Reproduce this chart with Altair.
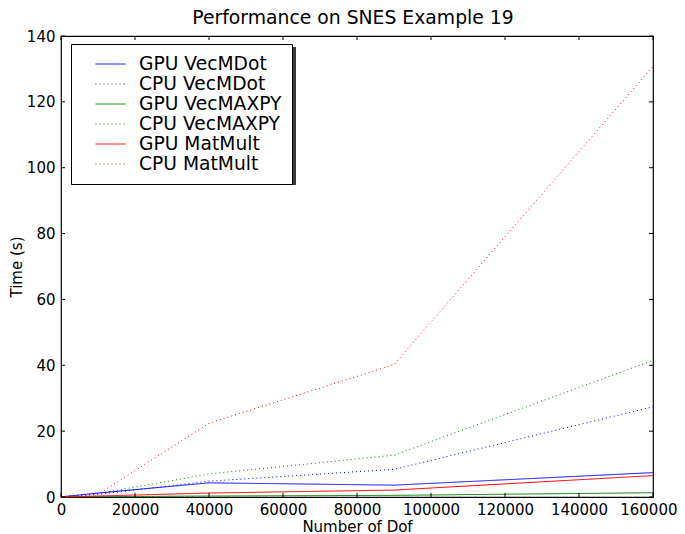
import altair as alt
import pandas as pd

# ---- data ----
dof = [64, 10000, 40000, 90000, 160000]
series_names = ["GPU VecMDot", "CPU VecMDot", "GPU VecMAXPY",
                "CPU VecMAXPY", "GPU MatMult", "CPU MatMult"]
gpu_vecmdot = [0.05, 1.2, 4.3, 3.6, 7.4]
cpu_vecmdot = [0.05, 0.8, 4.8, 8.4, 27.4]
gpu_vecmaxpy = [0.0, 0.1, 0.3, 0.5, 1.3]
cpu_vecmaxpy = [0.05, 1.0, 7.0, 12.7, 41.5]
gpu_matmult = [0.0, 0.3, 1.2, 2.1, 6.5]
cpu_matmult = [0.1, 0.8, 22.4, 40.2, 130.8]
series_colors = ["#0000ff", "#0000ff", "#008000", "#008000", "#ff0000", "#ff0000"]
series_dash = [[1, 0], [1, 3], [1, 0], [1, 3], [1, 0], [1, 3]]
x_ticks = [0, 20000, 40000, 60000, 80000, 100000, 120000, 140000, 160000]
y_ticks = [0, 20, 40, 60, 80, 100, 120, 140]

values = [gpu_vecmdot, cpu_vecmdot, gpu_vecmaxpy, cpu_vecmaxpy, gpu_matmult, cpu_matmult]
rows = []
for name, vals in zip(series_names, values):
    for d, v in zip(dof, vals):
        rows.append({"series": name, "dof": d, "time": v})
df = pd.DataFrame(rows)

W, H = 592, 461
FONT = "DejaVu Sans"

xscale = alt.Scale(domain=[0, 160000], nice=False)
yscale = alt.Scale(domain=[0, 140], nice=False)

shadow = alt.Chart(pd.DataFrame({"a": [0]})).mark_rect(color="#3a3a3a").encode(
    x=alt.value(13), x2=alt.value(235), y=alt.value(11), y2=alt.value(149)
)

last_tick = "datum.value == 160000"

lines = alt.Chart(df).mark_line(strokeWidth=1).encode(
    x=alt.X("dof:Q", scale=xscale,
            axis=alt.Axis(values=x_ticks, title="Number of Dof", format="d",
                          ticks=False, domain=False, grid=False, labelPadding=5,
                          labelOverlap=False, labelFlush=False, titlePadding=2,
                          labelAlign=alt.condition(last_tick, alt.value("right"),
                                                   alt.value("center")),
                          labelOffset=alt.condition(last_tick, alt.value(24),
                                                    alt.value(0)))),
    y=alt.Y("time:Q", scale=yscale,
            axis=alt.Axis(values=y_ticks, title="Time (s)", format="d",
                          ticks=False, domain=False, grid=False, labelPadding=6,
                          labelOverlap=False, labelFlush=False, titlePadding=2)),
    color=alt.Color("series:N",
                    scale=alt.Scale(domain=series_names, range=series_colors),
                    legend=alt.Legend(title=None, orient="none", legendX=10, legendY=8,
                                      symbolType="stroke", symbolSize=900,
                                      symbolStrokeWidth=1, symbolOffset=14,
                                      labelOffset=13, labelFontSize=18.7,
                                      labelFont=FONT, labelColor="black",
                                      labelExpr="datum.label + '  '",
                                      clipHeight=20, rowPadding=0,
                                      padding=10, fillColor="white",
                                      strokeColor="black", cornerRadius=0)),
    strokeDash=alt.StrokeDash("series:N",
                              scale=alt.Scale(domain=series_names, range=series_dash),
                              legend=None),
)

tick_x = pd.DataFrame({"t": x_ticks})
tick_y = pd.DataFrame({"t": y_ticks})
bx = alt.Chart(tick_x).mark_rule(color="black", strokeWidth=1).encode(
    x=alt.X("t:Q", scale=xscale), y=alt.value(H), y2=alt.value(H - 4))
tx = alt.Chart(tick_x).mark_rule(color="black", strokeWidth=1).encode(
    x=alt.X("t:Q", scale=xscale), y=alt.value(0), y2=alt.value(4))
ly = alt.Chart(tick_y).mark_rule(color="black", strokeWidth=1).encode(
    y=alt.Y("t:Q", scale=yscale), x=alt.value(0), x2=alt.value(4))
ry = alt.Chart(tick_y).mark_rule(color="black", strokeWidth=1).encode(
    y=alt.Y("t:Q", scale=yscale), x=alt.value(W), x2=alt.value(W - 4))

chart = alt.layer(lines, bx, tx, ly, ry, shadow).properties(
    width=W, height=H,
    background="white",
    title=alt.Title("Performance on SNES Example 19", fontSize=18.8, font=FONT,
                    fontWeight="normal", offset=1, dx=-4, color="black"),
    autosize=alt.AutoSizeParams(type="none"),
    padding={"left": 53, "top": 28, "right": 24, "bottom": 37},
).configure_view(stroke="black", strokeWidth=1.2).configure_axis(
    labelFont=FONT, labelFontSize=15, labelColor="black",
    titleFont=FONT, titleFontSize=15, titleFontWeight="normal", titleColor="black",
)

chart.save("out.html", embed_options={"renderer": "svg", "actions": False})
